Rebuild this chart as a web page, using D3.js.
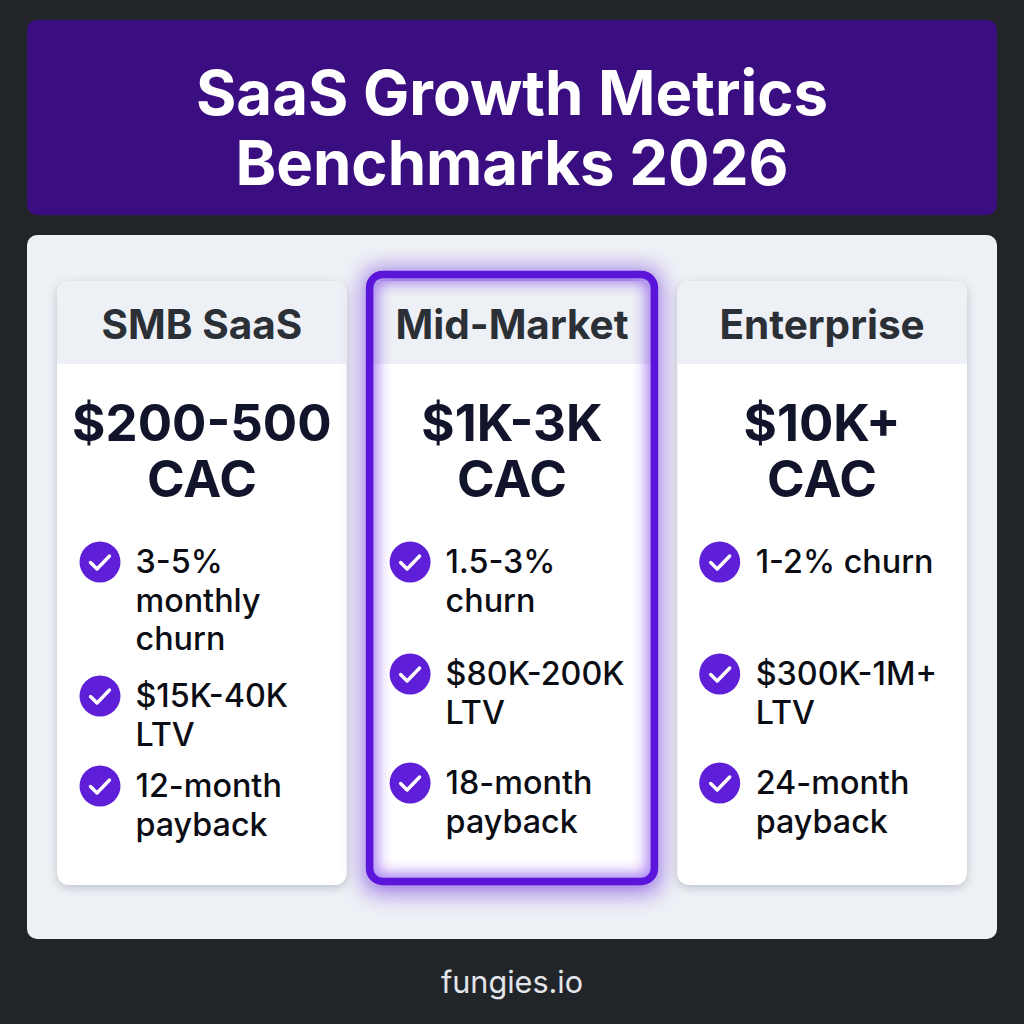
<!DOCTYPE html>
<html lang="en">
<head>
<meta charset="utf-8">
<script src="https://d3js.org/d3.v7.min.js"></script>
<style>
    html, body { margin: 0; padding: 0; background: #212529; }
    svg { display: block; }
    text { font-family: Inter, "Noto Sans", sans-serif; }
</style>
</head>
<body>
<svg></svg>
<script>
    const titleLines = ['SaaS Growth Metrics', 'Benchmarks 2026'];
    const segments = ['SMB SaaS', 'Mid-Market', 'Enterprise'];
    const cacValues = ['$200-500', '$1K-3K', '$10K+'];
    const cacUnit = 'CAC';
    const churnLines = [['3-5%', 'monthly', 'churn'], ['1.5-3%', 'churn'], ['1-2% churn']];
    const ltvLines = [['$15K-40K', 'LTV'], ['$80K-200K', 'LTV'], ['$300K-1M+', 'LTV']];
    const paybackLines = [['12-month', 'payback'], ['18-month', 'payback'], ['24-month', 'payback']];
    const highlighted = 'Mid-Market';
    const footer = 'fungies.io';

    const size = 1024;
    const svg = d3.select('svg').attr('width', size).attr('height', size);

    // centre y of the check icon for each row, per card
    const rowY = [[562, 696, 786], [562, 674, 783], [562, 674, 783]];

    const x = d3.scaleBand().domain(segments).range([57, 967]).paddingInner(0.0655).paddingOuter(0);
    const cardTop = 281, cardBottom = 885, headBottom = 364;
    const cardH = cardBottom - cardTop;

    const defs = svg.append('defs');
    const blur = (id, dev) => defs.append('filter').attr('id', id)
        .attr('x', '-30%').attr('y', '-30%').attr('width', '160%').attr('height', '160%')
        .append('feGaussianBlur').attr('stdDeviation', dev);
    blur('soft', 5);
    blur('glow', 11);
    blur('glowIn', 7);

    segments.forEach((s, i) => {
        defs.append('clipPath').attr('id', 'clip' + i).append('rect')
            .attr('x', x(s)).attr('y', cardTop).attr('width', x.bandwidth()).attr('height', cardH).attr('rx', 12);
    });

    svg.append('rect').attr('width', size).attr('height', size).attr('fill', '#212529');

    // title banner
    svg.append('rect').attr('x', 27).attr('y', 20).attr('width', 970).attr('height', 195).attr('rx', 10).attr('fill', '#3a0e80');
    svg.selectAll('.title').data(titleLines).enter().append('text').attr('class', 'title')
        .attr('x', 512).attr('y', (d, i) => 115 + i * 70)
        .attr('text-anchor', 'middle').attr('fill', '#fff').attr('font-size', 61.7).attr('font-weight', 700)
        .text(d => d);

    // light panel
    svg.append('rect').attr('x', 27).attr('y', 235).attr('width', 970).attr('height', 704).attr('rx', 10).attr('fill', '#edf0f5');

    const cards = svg.selectAll('.card').data(segments).enter().append('g').attr('class', 'card');

    // shadows under the plain cards
    cards.filter(d => d !== highlighted).append('rect')
        .attr('x', d => x(d)).attr('y', cardTop + 3).attr('width', x.bandwidth()).attr('height', cardH)
        .attr('rx', 12).attr('fill', '#6b7280').attr('opacity', 0.35).attr('filter', 'url(#soft)');

    // glow outside the highlighted card
    cards.filter(d => d === highlighted).append('rect')
        .attr('x', d => x(d) - 3).attr('y', cardTop - 11).attr('width', x.bandwidth() + 6).attr('height', cardH + 18)
        .attr('rx', 14).attr('fill', '#5b16d8').attr('opacity', 0.6).attr('filter', 'url(#glow)');

    cards.append('rect')
        .attr('x', d => x(d)).attr('y', cardTop).attr('width', x.bandwidth()).attr('height', cardH)
        .attr('rx', 12).attr('fill', '#fff');

    cards.append('rect')
        .attr('clip-path', (d, i) => `url(#clip${i})`)
        .attr('x', d => x(d)).attr('y', cardTop).attr('width', x.bandwidth()).attr('height', headBottom - cardTop)
        .attr('fill', '#edf0f5');

    cards.append('text')
        .attr('x', d => x(d) + x.bandwidth() / 2).attr('y', 339)
        .attr('text-anchor', 'middle').attr('fill', '#2b3036').attr('font-size', 40.5).attr('font-weight', 700)
        .text(d => d);

    cards.append('text')
        .attr('x', d => x(d) + x.bandwidth() / 2).attr('y', 441)
        .attr('text-anchor', 'middle').attr('fill', '#11142a').attr('font-size', 51).attr('font-weight', 700)
        .text((d, i) => cacValues[i]);

    cards.append('text')
        .attr('x', d => x(d) + x.bandwidth() / 2).attr('y', 497)
        .attr('text-anchor', 'middle').attr('fill', '#11142a').attr('font-size', 51).attr('font-weight', 700)
        .text(cacUnit);

    // feature rows
    const rows = segments.flatMap((s, i) => [churnLines[i], ltvLines[i], paybackLines[i]]
        .map((lines, r) => ({segment: s, lines, y: rowY[i][r]})));

    const row = svg.selectAll('.row').data(rows).enter().append('g').attr('class', 'row')
        .attr('transform', d => `translate(${x(d.segment)},${d.y})`);

    row.append('circle').attr('cx', d => d.segment === 'Enterprise' ? 42.5 : 43).attr('r', 20.5).attr('fill', '#5f1fd9');
    row.append('path').attr('d', 'M33.5 0.5 L40 7 L52.5 -6')
        .attr('fill', 'none').attr('stroke', '#fff').attr('stroke-width', 3.4)
        .attr('stroke-linecap', 'round').attr('stroke-linejoin', 'round');

    row.selectAll('text').data(d => d.lines).enter().append('text')
        .attr('x', 78.5).attr('y', (d, i) => 11 + i * 38.5)
        .attr('fill', '#0b0d14').attr('font-size', 32.3).attr('font-weight', 500)
        .text(d => d);

    // highlight frame, drawn last so it sits over the header
    const hl = cards.filter(d => d === highlighted);
    hl.append('rect')
        .attr('clip-path', (d) => `url(#clip${segments.indexOf(d)})`)
        .attr('x', d => x(d) + 2.5).attr('y', 274.5).attr('width', x.bandwidth() - 5).attr('height', 607)
        .attr('rx', 12).attr('fill', 'none').attr('stroke', '#6d28e8').attr('stroke-width', 16)
        .attr('opacity', 0.6).attr('filter', 'url(#glowIn)');
    hl.append('rect')
        .attr('x', d => x(d) + 2.5).attr('y', 274.5).attr('width', x.bandwidth() - 5).attr('height', 607)
        .attr('rx', 13).attr('fill', 'none').attr('stroke', '#5a14da').attr('stroke-width', 7.5);

    svg.append('text').attr('x', 512).attr('y', 993)
        .attr('text-anchor', 'middle').attr('fill', '#e2e5ea').attr('font-size', 30.6).attr('font-weight', 400)
        .text(footer);
</script>
</body>
</html>
